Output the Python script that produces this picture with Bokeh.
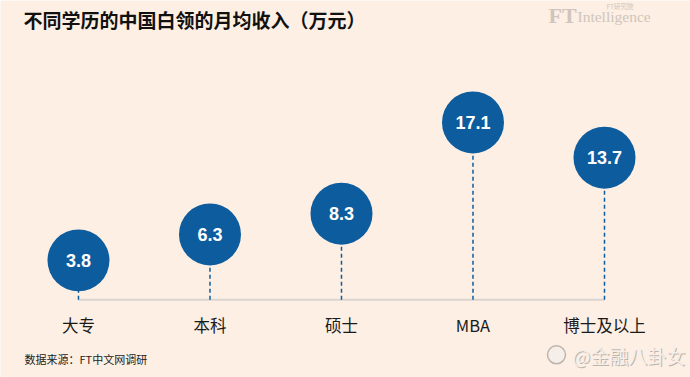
from bokeh.plotting import figure
from bokeh.models import Label, Range1d
from bokeh.core.properties import value
from bokeh.embed import file_html
from bokeh.resources import INLINE

categories = ["大专", "本科", "硕士", "MBA", "博士及以上"]
incomes = [3.8, 6.3, 8.3, 17.1, 13.7]
value_labels = ["3.8", "6.3", "8.3", "17.1", "13.7"]
title_text = "不同学历的中国白领的月均收入（万元）"
source_text = "数据来源：FT中文网调研"

BG = "#fdefe4"
BLUE = "#0d5c9e"
CJK = "Noto Sans CJK SC"

xs = list(range(len(categories)))

p = figure(width=690, height=377, output_backend="svg", toolbar_location=None,
           x_range=Range1d(-0.593, 4.654), y_range=Range1d(-7.49, 28.85),
           min_border=0, background_fill_color=BG, border_fill_color=BG,
           outline_line_color=None)
p.axis.visible = False
p.xgrid.visible = False
p.ygrid.visible = False

# baseline
p.line(x=[xs[0], xs[-1]], y=[0, 0], line_color="#dcd5cf", line_width=2)

# dashed stems
p.segment(x0=xs, y0=[0] * len(xs), x1=xs, y1=incomes,
          line_color=BLUE, line_width=1.5, line_dash="4 3")

# bubbles
p.scatter(x=xs, y=incomes, size=62, fill_color=BLUE, line_color=None)

# value labels
p.text(x=xs, y=incomes, text=value_labels, text_color="white",
       text_font=value("Liberation Sans"), text_font_style="bold",
       text_font_size="18px", text_align="center", text_baseline="middle")

# category labels
p.text(x=xs, y=[-2.4] * len(xs), text=categories, text_color="#1a1a1a",
       text_font=value(CJK), text_font_size="16.5px",
       text_align="center", text_baseline="middle")

# title
p.add_layout(Label(x=23, y=358, x_units="screen", y_units="screen",
                   text=title_text, text_font=CJK, text_font_size="19px",
                   text_font_style="bold", text_color="#111111",
                   text_baseline="middle"))

# source
p.add_layout(Label(x=24, y=19, x_units="screen", y_units="screen",
                   text=source_text, text_font=CJK, text_font_size="11px",
                   text_color="#222222", text_baseline="middle"))

# FT Intelligence logo
p.add_layout(Label(x=548, y=362, x_units="screen", y_units="screen",
                   text="FT", text_font="Liberation Serif", text_font_size="22px",
                   text_font_style="bold", text_color="#cfc5bc", text_baseline="middle"))
p.add_layout(Label(x=577, y=361, x_units="screen", y_units="screen",
                   text="Intelligence", text_font="Liberation Serif", text_font_size="15.5px",
                   text_color="#cfc5bc", text_baseline="middle"))
p.add_layout(Label(x=606, y=372, x_units="screen", y_units="screen",
                   text="FT研究院", text_font=CJK, text_font_size="6.5px",
                   text_color="#cfc5bc", text_baseline="middle"))

# watermark
p.add_layout(Label(x=573, y=21, x_units="screen", y_units="screen",
                   text="@金融八卦女", text_font=CJK, text_font_size="19px",
                   text_color="#bdb4ab", text_baseline="middle"))
p.add_layout(Label(x=572, y=22, x_units="screen", y_units="screen",
                   text="@金融八卦女", text_font=CJK, text_font_size="19px",
                   text_color="#f6eee8", text_baseline="middle"))
p.scatter(x=[3.635], y=[-5.3], size=18, fill_color="#f6eee8", line_color="#bdb4ab", line_width=1.5)

open("out.html", "w").write(file_html(p, INLINE))
